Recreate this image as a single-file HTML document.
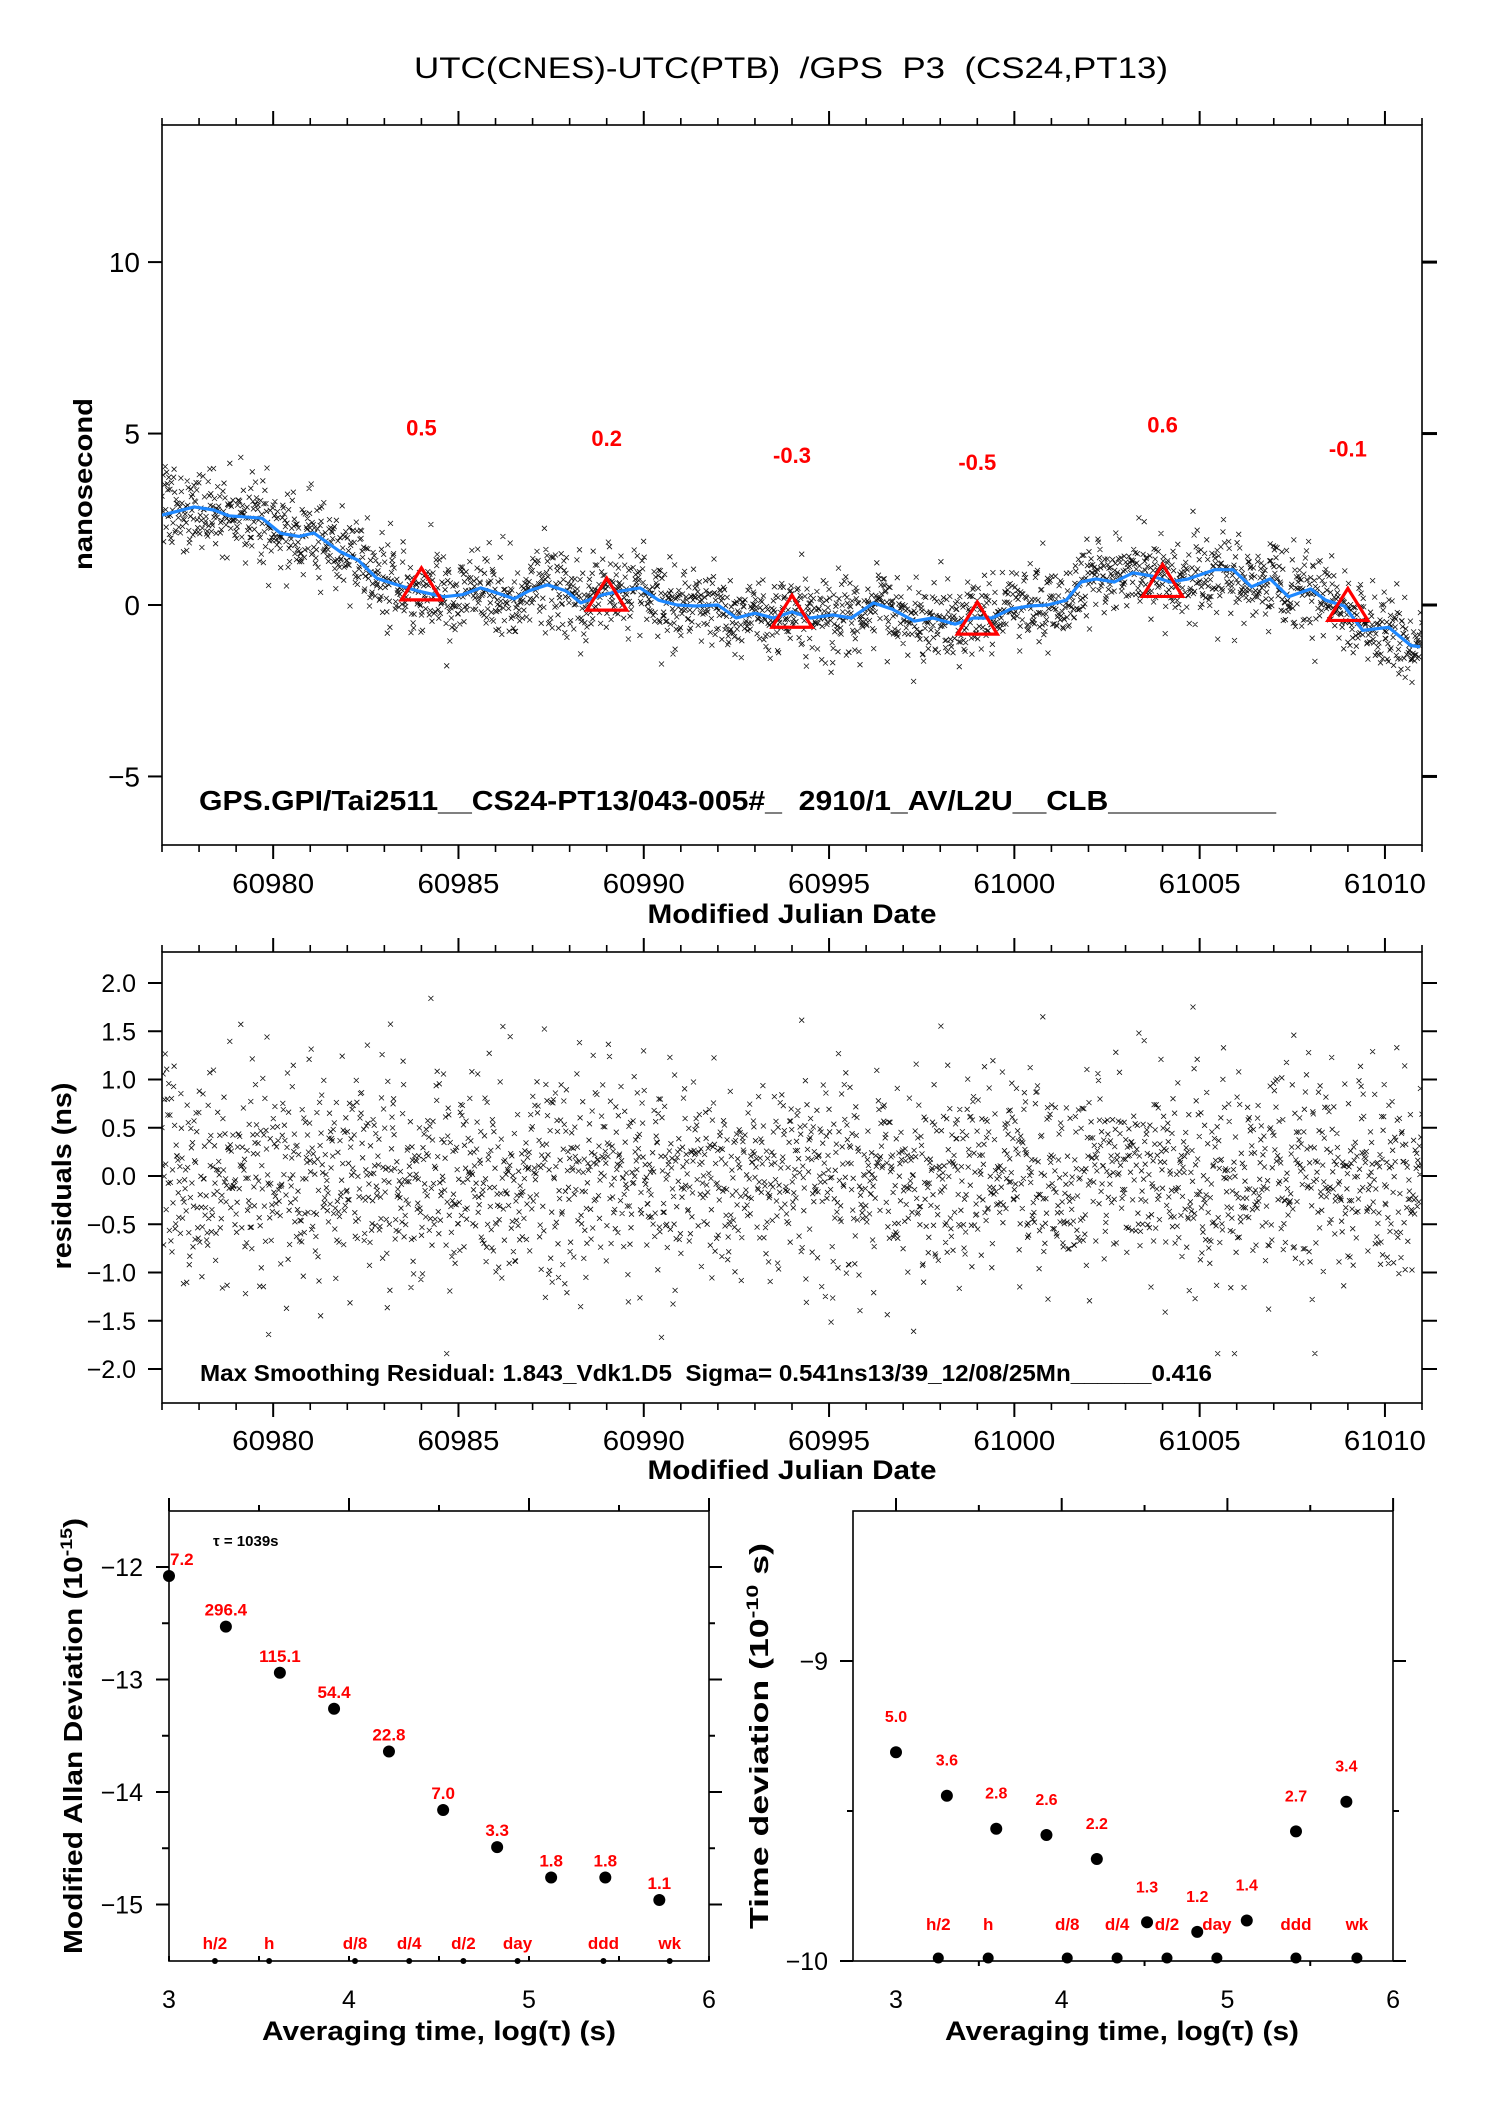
<!DOCTYPE html>
<html><head><meta charset="utf-8"><title>UTC(CNES)-UTC(PTB) GPS P3</title>
<style>
html,body{margin:0;padding:0;background:#fff;}
svg{display:block;font-family:"Liberation Sans",sans-serif;}
</style></head>
<body>
<svg id="fig" width="1488" height="2105" viewBox="0 0 1488 2105" xmlns="http://www.w3.org/2000/svg">
<defs>
<clipPath id="clipTop"><rect x="162" y="125" width="1260" height="720"/></clipPath>
<clipPath id="clipRes"><rect x="162" y="952" width="1260" height="451"/></clipPath>
</defs>
<text x="791" y="78" font-size="30" text-anchor="middle" style="white-space:pre" textLength="754" lengthAdjust="spacingAndGlyphs">UTC(CNES)-UTC(PTB)  /GPS  P3  (CS24,PT13)</text>

<g id="top"></g>
<g id="res"></g>
<g id="adev"></g>
<g id="tdev"></g>

<text x="0" y="0" font-size="26" font-weight="bold" text-anchor="middle" transform="translate(92,484) rotate(-90)" textLength="172" lengthAdjust="spacingAndGlyphs">nanosecond</text>
<text x="792" y="923" font-size="27" font-weight="bold" text-anchor="middle" textLength="289" lengthAdjust="spacingAndGlyphs">Modified Julian Date</text>
<text x="199" y="810" font-size="28" font-weight="bold" style="white-space:pre" textLength="1077" lengthAdjust="spacingAndGlyphs">GPS.GPI/Tai2511__CS24-PT13/043-005#_  2910/1_AV/L2U__CLB__________</text>

<text x="0" y="0" font-size="27" font-weight="bold" text-anchor="middle" transform="translate(71,1176) rotate(-90)" textLength="187" lengthAdjust="spacingAndGlyphs">residuals (ns)</text>
<text x="792" y="1479" font-size="27" font-weight="bold" text-anchor="middle" textLength="289" lengthAdjust="spacingAndGlyphs">Modified Julian Date</text>
<text x="200" y="1381" font-size="23" font-weight="bold" style="white-space:pre" textLength="1012" lengthAdjust="spacingAndGlyphs">Max Smoothing Residual: 1.843_Vdk1.D5  Sigma= 0.541ns13/39_12/08/25Mn______0.416</text>

<text x="0" y="0" font-size="26" font-weight="bold" text-anchor="middle" transform="translate(82,1736) rotate(-90)" textLength="436" lengthAdjust="spacingAndGlyphs">Modified Allan Deviation (10<tspan font-size="17" dy="-10">-15</tspan><tspan dy="10">)</tspan></text>
<text x="439" y="2040" font-size="27" font-weight="bold" text-anchor="middle" textLength="354" lengthAdjust="spacingAndGlyphs">Averaging time, log(τ) (s)</text>
<text x="213" y="1546" font-size="15" font-weight="bold">τ = 1039s</text>
<text x="0" y="0" font-size="26" font-weight="bold" text-anchor="middle" transform="translate(768,1736) rotate(-90)" textLength="386" lengthAdjust="spacingAndGlyphs">Time deviation (10<tspan font-size="17" dy="-10">-10</tspan><tspan dy="10"> s)</tspan></text>
<text x="1122" y="2040" font-size="27" font-weight="bold" text-anchor="middle" textLength="354" lengthAdjust="spacingAndGlyphs">Averaging time, log(τ) (s)</text>
</svg>

<script>
// ---------- data ----------
const smoothMjd = [60977.0,60977.87,60978.4,60978.8,60979.7,60980.2,60980.7,60981.1,60981.8,60982.3,60982.8,60983.3,60983.9,60984.6,60985.1,60985.6,60986.1,60986.5,60986.9,60987.4,60987.9,60988.3,60988.9,60989.4,60989.9,60990.4,60990.9,60991.4,60992.0,60992.5,60993.0,60993.5,60994.0,60994.5,60995.1,60995.6,60996.2,60996.7,60997.3,60997.8,60998.4,60998.9,60999.4,60999.9,61000.4,61000.9,61001.4,61001.8,61002.2,61002.7,61003.2,61003.7,61004.2,61004.7,61005.4,61005.9,61006.4,61006.9,61007.4,61008.0,61008.4,61008.9,61009.4,61010.1,61010.7,61010.95];
const smoothNs = [2.62,2.86,2.77,2.6,2.53,2.09,2.0,2.1,1.56,1.3,0.78,0.6,0.41,0.24,0.3,0.5,0.33,0.18,0.41,0.59,0.41,0.06,0.3,0.41,0.5,0.14,0.0,-0.03,0.0,-0.38,-0.24,-0.38,-0.2,-0.38,-0.29,-0.38,0.06,-0.12,-0.47,-0.38,-0.56,-0.38,-0.38,-0.12,-0.03,0.0,0.14,0.67,0.76,0.67,0.94,0.85,0.67,0.76,1.03,1.03,0.53,0.76,0.24,0.47,0.14,-0.03,-0.74,-0.65,-1.18,-1.22];
const triMjd = [60984,60989,60994,60999,61004,61009];
const triNs = [0.5,0.2,-0.3,-0.5,0.6,-0.1];
const triLabels = ["0.5","0.2","-0.3","-0.5","0.6","-0.1"];
const topYTicks = [10,5,0,-5];
const topYTickLabels = ["10","5","0","\u22125"];
const mjdTicks = [60980,60985,60990,60995,61000,61005,61010];
const resYTicks = [2.0,1.5,1.0,0.5,0.0,-0.5,-1.0,-1.5,-2.0];
const resYTickLabels = ["2.0","1.5","1.0","0.5","0.0","\u22120.5","\u22121.0","\u22121.5","\u22122.0"];
const residualSigma = 0.541;
const nSamples = 2400;
const adevLogTau = [3.0,3.316,3.616,3.917,4.222,4.523,4.823,5.123,5.424,5.724];
const adevVal = [-12.08,-12.53,-12.94,-13.26,-13.64,-14.16,-14.49,-14.76,-14.76,-14.96];
const adevLabels = ["7.2","296.4","115.1","54.4","22.8","7.0","3.3","1.8","1.8","1.1"];
const tdevLogTau = [3.0,3.307,3.605,3.908,4.212,4.515,4.818,5.117,5.414,5.718];
const tdevVal = [-9.304,-9.449,-9.559,-9.580,-9.660,-9.871,-9.903,-9.865,-9.568,-9.469];
const tdevLabels = ["5.0","3.6","2.8","2.6","2.2","1.3","1.2","1.4","2.7","3.4"];
const markerNames = ["h/2","h","d/8","d/4","d/2","day","ddd","wk"];
const markerSeconds = [1800,3600,10800,21600,43200,86400,259200,604800];
const adevYTicks = [-12,-13,-14,-15];
const tdevYTicks = [-9,-10];
const logTauTicks = [3,4,5,6];

// ---------- scales ----------
const X = m => 162 + (m - 60977) * 1260 / 34;
const Y = v => 605 - v * 34.29;
const Yr = v => 1176 - v * 96.5;
const Lx = l => 169 + (l - 3) * 180;
const Ly = v => 1567 - (v + 12) * 112.5;
const Rx = l => 896 + (l - 3) * 165.7;
const Ry = v => 1961 - (v + 10) * 300;
const RES_TOP = 952, RES_BOT = 1403;

const NS = "http://www.w3.org/2000/svg";
function el(tag, parent, attrs) {
  const e = document.createElementNS(NS, tag);
  for (const k in attrs) e.setAttribute(k, attrs[k]);
  parent.appendChild(e);
  return e;
}
function lineD(pairs){ return pairs.map((p,i)=>(i?'L':'M')+p[0].toFixed(1)+','+p[1].toFixed(1)).join(''); }
function smoothAt(m){
  if (m <= smoothMjd[0]) return smoothNs[0];
  for (let i=1;i<smoothMjd.length;i++){
    if (m <= smoothMjd[i]){
      const t=(m-smoothMjd[i-1])/(smoothMjd[i]-smoothMjd[i-1]);
      return smoothNs[i-1]+t*(smoothNs[i]-smoothNs[i-1]);
    }
  }
  return smoothNs[smoothNs.length-1];
}

// deterministic noise for the measurement cloud (texture only)
let seed = 20251208;
function rnd(){ seed = (seed * 16807) % 2147483647; return seed / 2147483647; }
function gauss(){ let u=rnd()||1e-9, v=rnd(); return Math.sqrt(-2*Math.log(u))*Math.cos(2*Math.PI*v); }
const sampleMjd = [], sampleRes = [];
for (let i=0;i<nSamples;i++){
  sampleMjd.push(60977 + 34 * i / (nSamples-1));
  let r = gauss()*residualSigma; if (r>1.84) r=1.84; if (r<-1.84) r=-1.84;
  sampleRes.push(r);
}

function xMarks(pts){ let d=''; for (const p of pts){ d+=`M${(p[0]-2.5).toFixed(1)},${(p[1]-2.5).toFixed(1)}l5,5m0,-5l-5,5`; } return d; }

function frame(g, x, y, w, h, name){
  const r = el('rect', g, {x:x, y:y, width:w, height:h, fill:'none', stroke:'#000', 'stroke-width':1.6});
  
  
}
function tick(g, x1,y1,x2,y2,w,name){
  const t = el('line', g, {x1:x1,y1:y1,x2:x2,y2:y2,stroke:'#000','stroke-width':w});
  
  
}
function label(g, x, y, txt, size, anchor, name, opts){
  const t = el('text', g, Object.assign({x:x, y:y, 'font-size':size, 'text-anchor':anchor}, opts||{}));
  t.textContent = txt;
  
  
  return t;
}

// ---------- top panel ----------
const gT = document.getElementById('top');
frame(gT, 162, 125, 1260, 720, 'top-plot-frame');
for (let d=60977; d<=61011; d++){
  const major = d%5===0;
  tick(gT, X(d),125, X(d),125-(major?14:7), major?2:1.6, 'top-x-tick-upper');
  tick(gT, X(d),845, X(d),845+(major?14:7), major?2:1.6, 'top-x-tick-lower');
  tick(gT, X(d),RES_TOP, X(d),RES_TOP-(major?14:7), major?2:1.6, 'res-x-tick-upper');
  tick(gT, X(d),RES_BOT, X(d),RES_BOT+(major?14:7), major?2:1.6, 'res-x-tick-lower');
}
mjdTicks.forEach(m=>{
  label(gT, X(m), 893, String(m), 28, 'middle', 'top-x-tick-label', {textLength:82, lengthAdjust:'spacingAndGlyphs'});
  label(gT, X(m), 1450, String(m), 28, 'middle', 'res-x-tick-label', {textLength:82, lengthAdjust:'spacingAndGlyphs'});
});
topYTicks.forEach((v,i)=>{
  tick(gT, 148, Y(v), 162, Y(v), 2, 'top-y-tick-left');
  tick(gT, 1422, Y(v), 1437, Y(v), 3, 'top-y-tick-right');
  label(gT, 140, Y(v)+10, topYTickLabels[i], 28, 'end', 'top-y-tick-label');
});
const gTc = el('g', gT, {'clip-path':'url(#clipTop)'});


const topPts = sampleMjd.map((m,i)=>[X(m), Y(smoothAt(m)+sampleRes[i]*1.1)]);
const cloudT = el('path', gTc, {d:xMarks(topPts), stroke:'#111', 'stroke-width':0.8, fill:'none'});


const sm = el('path', gTc, {d:lineD(smoothMjd.map((m,i)=>[X(m),Y(smoothNs[i])])), stroke:'#1e88ff', 'stroke-width':3.2, fill:'none', 'stroke-linejoin':'round'});


triMjd.forEach((m,i)=>{
  const cx=X(m), cy=Y(triNs[i]);
  const tr = el('path', gTc, {d:`M${cx},${cy-20}L${cx+20},${cy+12}L${cx-20},${cy+12}Z`, stroke:'#ff0000', 'stroke-width':3.2, fill:'none'});
  
  
  label(gT, cx, Y(triNs[i]+4.7)+9, triLabels[i], 22, 'middle', 'segment-mean-label', {fill:'#ff0000','font-weight':'bold'});
});

// ---------- residuals panel ----------
const gR = document.getElementById('res');
frame(gR, 162, RES_TOP, 1260, RES_BOT-RES_TOP, 'residuals-plot-frame');
resYTicks.forEach((v,i)=>{
  tick(gR, 148, Yr(v), 162, Yr(v), 2, 'res-y-tick-left');
  tick(gR, 1422, Yr(v), 1437, Yr(v), 2, 'res-y-tick-right');
  label(gR, 136, Yr(v)+9, resYTickLabels[i], 25, 'end', 'res-y-tick-label');
});
const gRc = el('g', gR, {'clip-path':'url(#clipRes)'});


const resPts = sampleMjd.map((m,i)=>[X(m), Yr(sampleRes[i])]);
const cloudR = el('path', gRc, {d:xMarks(resPts), stroke:'#111', 'stroke-width':0.8, fill:'none'});



// ---------- ADEV panel ----------
const gA = document.getElementById('adev');
frame(gA, 169, 1511, 540, 450, 'adev-plot-frame');
for (let l=3; l<=6.001; l+=0.5){
  const major = Math.abs(l-Math.round(l))<0.01;
  tick(gA, Lx(l),1511, Lx(l),1511-(major?13:6), 2, 'adev-x-tick-upper');
  tick(gA, Lx(l),1961, Lx(l),1961-5, 2, 'adev-x-tick-lower');
}
for (let v=-12; v>=-15.001; v-=0.5){
  const major = Math.abs(v-Math.round(v))<0.01;
  tick(gA, 169,Ly(v), 169-(major?13:7),Ly(v), 2, 'adev-y-tick-left');
  tick(gA, 709,Ly(v), 709+(major?13:6),Ly(v), 2, 'adev-y-tick-right');
}
adevYTicks.forEach(v=>label(gA, 143, Ly(v)+9, '\u2212'+String(-v), 25, 'end', 'adev-y-tick-label'));
logTauTicks.forEach(l=>label(gA, Lx(l), 2008, String(l), 25, 'middle', 'adev-x-tick-label'));
adevLogTau.forEach((l,i)=>{
  const c = el('circle', gA, {cx:Lx(l), cy:Ly(adevVal[i]), r:6, fill:'#000'});
  
  
  const anchor = i===0 ? 'start' : 'middle';
  label(gA, i===0 ? 170 : Lx(l), Ly(adevVal[i])-11, adevLabels[i], 17, anchor, 'adev-point-label', {fill:'#ff0000','font-weight':'bold'});
});
markerSeconds.forEach((s,i)=>{
  const l = Math.log10(s);
  const c = el('circle', gA, {cx:Lx(l), cy:1961, r:3, fill:'#000'});
  
  
  label(gA, Lx(l), 1949, markerNames[i], 17, 'middle', 'adev-interval-label', {fill:'#ff0000','font-weight':'bold'});
});

// ---------- TDEV panel ----------
const gD = document.getElementById('tdev');
frame(gD, 853, 1511, 540, 450, 'tdev-plot-frame');
for (let l=3; l<=6.001; l+=0.5){
  const major = Math.abs(l-Math.round(l))<0.01;
  tick(gD, Rx(l),1511, Rx(l),1511-(major?13:6), 2, 'tdev-x-tick-upper');
  tick(gD, Rx(l),1961, Rx(l),1961+(major?0:5), 2, 'tdev-x-tick-lower');
}
[-9,-9.5,-10].forEach(v=>{
  const major = Math.abs(v-Math.round(v))<0.01;
  tick(gD, 853,Ry(v), 853-(major?13:6),Ry(v), 2, 'tdev-y-tick-left');
  tick(gD, 1393,Ry(v), 1393+(major?13:6),Ry(v), 2, 'tdev-y-tick-right');
});
tdevYTicks.forEach(v=>label(gD, 828, Ry(v)+9, '\u2212'+String(-v), 25, 'end', 'tdev-y-tick-label'));
logTauTicks.forEach(l=>label(gD, Rx(l), 2008, String(l), 25, 'middle', 'tdev-x-tick-label'));
tdevLogTau.forEach((l,i)=>{
  const c = el('circle', gD, {cx:Rx(l), cy:Ry(tdevVal[i]), r:6, fill:'#000'});
  
  
  label(gD, Rx(l), Ry(tdevVal[i])-30, tdevLabels[i], 16, 'middle', 'tdev-point-label', {fill:'#ff0000','font-weight':'bold'});
});
markerSeconds.forEach((s,i)=>{
  const l = Math.log10(s);
  const c = el('circle', gD, {cx:Rx(l), cy:1958, r:5.5, fill:'#000'});
  
  
  label(gD, Rx(l), 1930, markerNames[i], 17, 'middle', 'tdev-interval-label', {fill:'#ff0000','font-weight':'bold'});
});
</script>
</body></html>
